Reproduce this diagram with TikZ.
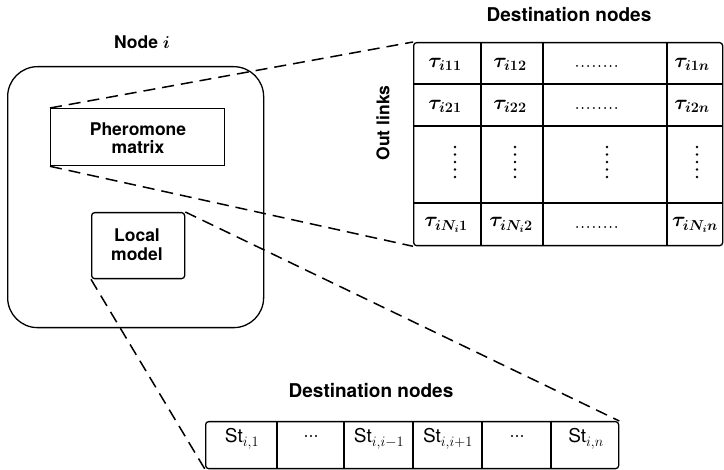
\documentclass[tikz,border=0pt]{standalone}
\usepackage{amsmath,bm}
\usepackage{fontspec}
\setmainfont{TeX Gyre Heros}
\begin{document}
\begin{tikzpicture}[x=1pt,y=-1pt,
  box/.style={draw,line width=1.3pt,inner sep=0pt},
  lbl/.style={font=\bfseries\fontsize{19}{22}\selectfont},
  inlbl/.style={font=\bfseries\fontsize{17.5}{20}\selectfont,align=center},
  dashline/.style={draw,line width=1.5pt,dash pattern=on 12pt off 7pt},
  grid/.style={line width=1.2pt},
  tau/.style={font=\fontsize{19.5}{22}\selectfont,inner sep=0pt},
  st/.style={font=\fontsize{19}{22}\selectfont,inner sep=0pt}
]
\useasboundingbox (0,0) rectangle (724,470);
% Node i
\node[box,rounded corners=30pt,minimum width=256pt,minimum height=261pt,anchor=north west] (nodei) at (7,66) {};
\node[font=\bfseries\fontsize{17.5}{20}\selectfont] (nodeilbl) at (142,42) {Node $\bm{i}$};
\node[box,minimum width=174pt,minimum height=57pt,anchor=north west] (pm) at (50,108) {};
\node[inlbl] (pmt) at (138,138) {Pheromone\\[-2pt]matrix};
\node[box,rounded corners=3pt,minimum width=93pt,minimum height=66pt,anchor=north west] (lm) at (91,212) {};
\node[inlbl] (lmt) at (137,245) {Local\\[-1pt]model};
% Matrix
\node[lbl] (dest1) at (569,15) {Destination nodes};
\node[font=\bfseries\fontsize{17.5}{20}\selectfont,rotate=90] (out) at (383,123) {Out links};
\node[box,rounded corners=3pt,minimum width=309pt,minimum height=203pt,anchor=north west] (mat) at (413,42) {};
\draw[grid] (481,42) -- (481,245) (543,42) -- (543,245) (667,42) -- (667,245);
\draw[grid] (413,84) -- (722,84) (413,126) -- (722,126) (413,203) -- (722,203);
\node[tau] (t11) at (445,64) {$\bm{\tau_{i11}}$};
\node[tau] (t12) at (510,64) {$\bm{\tau_{i12}}$};
\node[tau] (t1n) at (692,64) {$\bm{\tau_{i1n}}$};
\node[tau] (t21) at (445,106) {$\bm{\tau_{i21}}$};
\node[tau] (t22) at (510,106) {$\bm{\tau_{i22}}$};
\node[tau] (t2n) at (692,106) {$\bm{\tau_{i2n}}$};
\node[tau] (tN1) at (446,225) {$\bm{\tau_{iN_i1}}$};
\node[tau] (tN2) at (511,225) {$\bm{\tau_{iN_i2}}$};
\node[tau] (tNn) at (695,225) {$\bm{\tau_{iN_in}}$};
\foreach \cy in {66,108,227}{
  \foreach \k in {0,...,7}{
    \fill (577+5.6*\k,\cy) circle (1pt);
  }
}
\foreach \cx in {455,515,607,697}{
  \foreach \cy in {147,154.5,162,169.5,177}{
    \fill (\cx,\cy) circle (1.3pt);
  }
}
% Row
\node[lbl] (dest2) at (371,391) {Destination nodes};
\node[box,rounded corners=3pt,minimum width=413pt,minimum height=47pt,anchor=north west] (row) at (205,421) {};
\draw[grid] (277,421) -- (277,468) (344,421) -- (344,468) (413,421) -- (413,468) (482,421) -- (482,468) (551,421) -- (551,468);
\node[st,anchor=base] (s1) at (242,443) {St$_{i,1}$};
\node[st,anchor=base] (s3) at (379,443) {St$_{i,i-1}$};
\node[st,anchor=base] (s4) at (448,443) {St$_{i,i+1}$};
\node[st,anchor=base] (s6) at (586,443) {St$_{i,n}$};
\foreach \cx in {311,517}{
  \foreach \k in {-1,0,1}{
    \fill (\cx+5*\k,436) circle (1.2pt);
  }
}
% Dashed connectors
\draw[dashline] (pm.north west) -- (mat.north west);
\draw[dashline] (pm.south west) -- (mat.south west);
\draw[dashline] (lm.north east) -- (row.north east);
\draw[dashline] (lm.south west) -- (row.south west);
\end{tikzpicture}
\end{document}
